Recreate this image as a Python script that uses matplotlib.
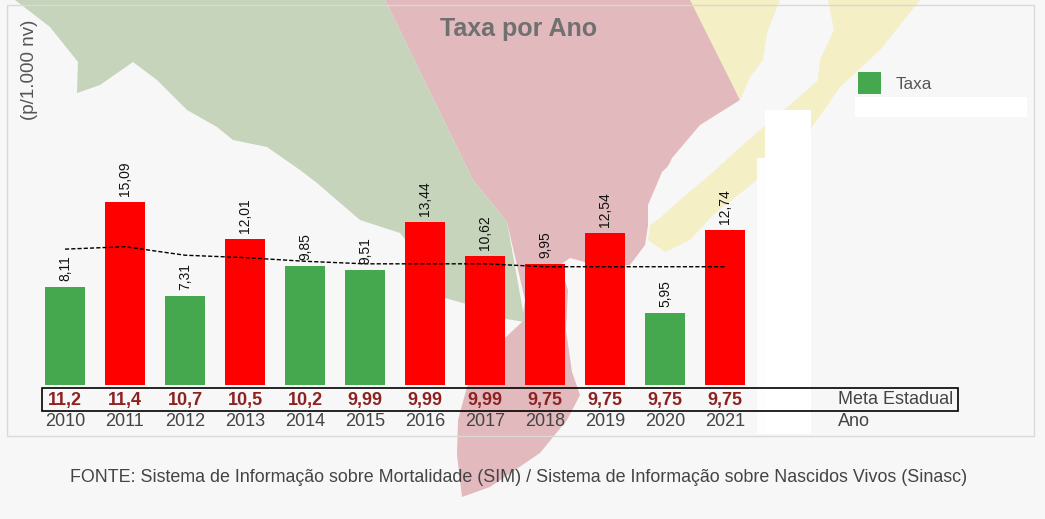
import matplotlib
matplotlib.use("Agg")
import matplotlib.pyplot as plt
from matplotlib.patches import Polygon, Rectangle, Patch

plt.rcParams['font.family'] = ['Liberation Sans', 'DejaVu Sans']

# data
anos = ['2010', '2011', '2012', '2013', '2014', '2015',
        '2016', '2017', '2018', '2019', '2020', '2021']
taxa = [8.11, 15.09, 7.31, 12.01, 9.85, 9.51, 13.44, 10.62, 9.95, 12.54, 5.95, 12.74]
meta = [11.2, 11.4, 10.7, 10.5, 10.2, 9.99, 9.99, 9.99, 9.75, 9.75, 9.75, 9.75]

def br(v):
    s = ('%.2f' % v).rstrip('0').rstrip('.')
    return s.replace('.', ',')

VERDE = '#45a84e'
VERMELHO = '#ff0000'
BG = '#f7f7f7'

W, H = 1045, 519
fig = plt.figure(figsize=(W / 100, H / 100), dpi=100, facecolor=BG)

# background layer in pixel coords (map decoration, boxes, labels)
bg = fig.add_axes([0, 0, 1, 1], zorder=0)
bg.set_xlim(0, W)
bg.set_ylim(H, 0)
bg.axis('off')

mapa_vermelho = [(385, 0), (693, 0), (740, 100), (700, 125), (672, 158), (652, 200), (645, 245),
                 (630, 265), (600, 268), (585, 262), (570, 258), (560, 265), (568, 290), (566, 330),
                 (572, 372), (580, 395), (567, 420), (540, 453), (490, 487), (462, 497), (457, 455),
                 (458, 420), (467, 387), (490, 352), (522, 322), (525, 300), (507, 222), (473, 180)]
mapa_verde = [(15, 0), (385, 0), (473, 180), (507, 222), (525, 322), (500, 318), (470, 305),
              (445, 298), (425, 265), (410, 245), (400, 233), (360, 220), (317, 183), (300, 170),
              (267, 147), (233, 140), (217, 127), (187, 110), (157, 80), (133, 62), (100, 85),
              (77, 93), (78, 62), (50, 27)]
mapa_amarelo = [(690, 0), (920, 0), (880, 50), (840, 87), (810, 130), (757, 180), (713, 215),
                (690, 240), (665, 252), (648, 240), (652, 212), (700, 160), (740, 100)]
lagoa = [(780, 0), (828, 0), (834, 30), (820, 60), (818, 80), (790, 105), (760, 130), (737, 150),
         (710, 175), (680, 200), (660, 218), (648, 226), (648, 205), (662, 172), (700, 135),
         (740, 100), (750, 77), (763, 60), (767, 33)]

bg.add_patch(Polygon(mapa_vermelho, closed=True, fc='#e2b9bd', ec='none'))
bg.add_patch(Polygon(mapa_verde, closed=True, fc='#c6d4bc', ec='none'))
bg.add_patch(Polygon(mapa_amarelo, closed=True, fc='#f4efc4', ec='none'))
bg.add_patch(Polygon(lagoa, closed=True, fc=BG, ec='none'))

# panel border and white blocks
bg.add_patch(Rectangle((7, 5), 1027, 431, fc='none', ec='#d9d9d9', lw=1))
bg.add_patch(Rectangle((765, 110), 46, 324, fc='white', ec='none'))
bg.add_patch(Rectangle((757, 158), 8, 276, fc='#fdfdfd', ec='none'))
bg.add_patch(Rectangle((855, 97), 172, 20, fc='white', ec='none'))

# meta row box
bg.add_patch(Rectangle((42, 388), 916, 23, fc='none', ec='black', lw=1.2))

bg.text(519, 29, 'Taxa por Ano', ha='center', va='center', fontsize=18,
        fontweight='bold', color='#707070')
bg.text(30, 70, '(p/1.000 nv)', ha='center', va='center', rotation=90,
        fontsize=13.5, color='#555555')
bg.text(838, 400, 'Meta Estadual', ha='left', va='center', fontsize=13, color='#444444')
bg.text(838, 421, 'Ano', ha='left', va='center', fontsize=13, color='#444444')
bg.text(519, 478, 'FONTE: Sistema de Informação sobre Mortalidade (SIM) / Sistema de '
        'Informação sobre Nascidos Vivos (Sinasc)', ha='center', va='center',
        fontsize=12.9, color='#444444')

# bars
ax = fig.add_axes([35 / W, (H - 385) / H, 720 / W, 365 / H], zorder=1)
ax.patch.set_alpha(0)
for s in ax.spines.values():
    s.set_visible(False)
ax.set_xticks([])
ax.set_yticks([])
ax.set_xlim(-0.5, len(anos) - 0.5)
ax.set_ylim(0, 365 / 12.13)

x = list(range(len(anos)))
cores = [VERDE if t <= m else VERMELHO for t, m in zip(taxa, meta)]
ax.bar(x, taxa, width=0.67, color=cores, edgecolor='none', zorder=2)
ax.plot(x, meta, color='black', lw=1, ls=(0, (3, 1.5)), zorder=3)

for i in x:
    ax.annotate(br(taxa[i]), xy=(i, taxa[i]), xytext=(0, 6), textcoords='offset pixels',
                ha='center', va='bottom', rotation=90, fontsize=10, color='#111111')
    ax.annotate(br(meta[i]), xy=(i, 0), xytext=(0, -15), textcoords='offset pixels',
                ha='center', va='center', fontsize=13, fontweight='bold', color='#8c2222',
                annotation_clip=False)
    ax.annotate(anos[i], xy=(i, 0), xytext=(0, -36), textcoords='offset pixels',
                ha='center', va='center', fontsize=13, color='#444444',
                annotation_clip=False)

fig.legend(handles=[Patch(fc=VERDE, ec='none')], labels=['Taxa'], loc='center left',
           bbox_to_anchor=(843 / W, 1 - 83 / H), frameon=False, fontsize=12.3,
           handlelength=1.3, handleheight=1.6, handletextpad=0.9, labelcolor='#555555')

fig.savefig('out.png', dpi=100, facecolor=BG)
